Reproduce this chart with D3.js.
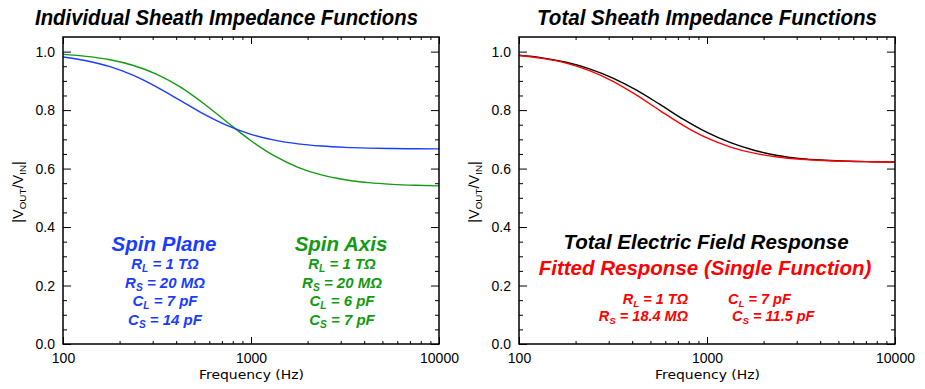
<!DOCTYPE html>
<html>
<head>
<meta charset="utf-8">
<script src="https://cdn.jsdelivr.net/npm/d3@7"></script>
<style>
    body { margin: 0; background: #fff; }
</style>
</head>
<body>
<div id="chart"></div>
<script>
let freqs = [100, 133, 178, 237, 316, 422, 562, 750, 1000, 1334, 1778, 2371, 3162, 4217, 5623, 7499, 10000];
let spinPlane = [0.9818, 0.9689, 0.9486, 0.9185, 0.8786, 0.8323, 0.7861, 0.7466, 0.7171, 0.6971, 0.6845, 0.6770, 0.6725, 0.6700, 0.6686, 0.6677, 0.6673];
let spinAxis = [0.9907, 0.9838, 0.9720, 0.9525, 0.9222, 0.8783, 0.8216, 0.7576, 0.6953, 0.6431, 0.6043, 0.5782, 0.5618, 0.5519, 0.5461, 0.5428, 0.5409];
let totalResponse = [0.9875, 0.9787, 0.9635, 0.9411, 0.9096, 0.8683, 0.8193, 0.7681, 0.7236, 0.6885, 0.6628, 0.6448, 0.6341, 0.6286, 0.6250, 0.6235, 0.6227];
let fittedResponse = [0.9865, 0.9767, 0.9605, 0.9351, 0.8986, 0.8513, 0.7983, 0.7471, 0.7046, 0.6735, 0.6528, 0.6398, 0.6321, 0.6276, 0.6250, 0.6235, 0.6227];

let xMajorTicks = [100, 1000, 10000];
let xMinorTicks = [200, 300, 400, 500, 600, 700, 800, 900, 2000, 3000, 4000, 5000, 6000, 7000, 8000, 9000];
let yMajorTicks = [0, 0.2, 0.4, 0.6, 0.8, 1.0];
let yMinorTicks = [0.05, 0.1, 0.15, 0.25, 0.3, 0.35, 0.45, 0.5, 0.55, 0.65, 0.7, 0.75, 0.85, 0.9, 0.95];

let blue = "#1a3cff", green = "#139a13", red = "#ff0000";
let sansFont = "Liberation Sans, Arial, sans-serif";

let svg = d3.select("#chart").append("svg")
    .attr("width", 925)
    .attr("height", 389)
    .attr("font-family", sansFont);

// text with subscripts: parts = [[text, isSub], ...]
function richText(g, x, y, parts, opts) {
    let t = g.append("text")
        .attr("x", x)
        .attr("y", y)
        .attr("text-anchor", opts.anchor || "middle")
        .attr("font-size", opts.size)
        .attr("font-weight", opts.weight || "normal")
        .attr("font-style", opts.style || "normal")
        .attr("fill", opts.color || "#000");
    let wasSub = false;
    parts.forEach(([s, sub]) => {
        let ts = t.append("tspan").text(s);
        if (sub) {
            ts.attr("font-size", opts.size * 0.68).attr("dy", opts.size * 0.2);
        } else if (wasSub) {
            ts.attr("dy", -opts.size * 0.2);
        }
        wasSub = sub;
    });
    return t;
}

function drawPanel(p) {
    let g = svg.append("g");
    let x = d3.scaleLog().domain([100, 10000]).range([p.left, p.left + 376]);
    let y = d3.scaleLinear().domain([0, 1.05]).range([344, 37]);

    let noDomain = (a) => a.select(".domain").remove();

    // bottom axis (labelled) + minor
    g.append("g").attr("transform", "translate(0,344)")
        .call(d3.axisBottom(x).tickValues(xMajorTicks).tickSize(-7).tickPadding(9).tickFormat(d3.format("d")))
        .call(noDomain);
    g.append("g").attr("transform", "translate(0,344)")
        .call(d3.axisBottom(x).tickValues(xMinorTicks).tickSize(-3).tickFormat(""))
        .call(noDomain);
    // top axis
    g.append("g").attr("transform", "translate(0,37)")
        .call(d3.axisTop(x).tickValues(xMajorTicks).tickSize(-7).tickFormat(""))
        .call(noDomain);
    g.append("g").attr("transform", "translate(0,37)")
        .call(d3.axisTop(x).tickValues(xMinorTicks).tickSize(-3).tickFormat(""))
        .call(noDomain);
    // left axis (labelled) + minor
    g.append("g").attr("transform", "translate(" + p.left + ",0)")
        .call(d3.axisLeft(y).tickValues(yMajorTicks).tickSize(-8).tickPadding(8).tickFormat(d3.format(".1f")))
        .call(noDomain);
    g.append("g").attr("transform", "translate(" + p.left + ",0)")
        .call(d3.axisLeft(y).tickValues(yMinorTicks).tickSize(-4).tickFormat(""))
        .call(noDomain);
    // right axis
    g.append("g").attr("transform", "translate(" + (p.left + 376) + ",0)")
        .call(d3.axisRight(y).tickValues(yMajorTicks).tickSize(-8).tickFormat(""))
        .call(noDomain);
    g.append("g").attr("transform", "translate(" + (p.left + 376) + ",0)")
        .call(d3.axisRight(y).tickValues(yMinorTicks).tickSize(-4).tickFormat(""))
        .call(noDomain);

    g.selectAll("g").attr("font-family", sansFont).attr("font-size", 14);
    g.selectAll(".tick line").attr("stroke", "#000").attr("stroke-width", 1);
    g.selectAll(".tick text").attr("fill", "#000");

    let line = d3.line()
        .x((d) => x(d.f))
        .y((d) => y(d.v))
        .curve(d3.curveMonotoneX);

    p.series.forEach((s) => {
        g.append("path")
            .datum(freqs.map((f, i) => ({f: f, v: s.values[i]})))
            .attr("fill", "none")
            .attr("stroke", s.color)
            .attr("stroke-width", 1.4)
            .attr("d", line);
    });

    g.append("rect")
        .attr("x", p.left).attr("y", 37)
        .attr("width", 376).attr("height", 307)
        .attr("fill", "none")
        .attr("stroke", "#000")
        .attr("stroke-width", 1.5);

    // title
    g.append("text")
        .attr("x", p.titleX).attr("y", 25)
        .attr("textLength", p.titleLen)
        .attr("lengthAdjust", "spacingAndGlyphs")
        .attr("font-size", 22)
        .attr("font-weight", "bold")
        .attr("font-style", "italic")
        .text(p.title);

    // x label
    g.append("text")
        .attr("x", p.left + 188 - 52).attr("y", 379)
        .attr("textLength", 105)
        .attr("lengthAdjust", "spacingAndGlyphs")
        .attr("font-family", "DejaVu Sans, sans-serif")
        .attr("font-size", 13)
        .text("Frequency (Hz)");

    // y label
    richText(g, 0, 0, [["|V", false], ["OUT", true], ["/V", false], ["IN", true], ["|", false]], {size: 14.5})
        .attr("transform", "translate(" + (p.left - 40) + ",192) rotate(-90)");

    return g;
}

let left = drawPanel({
    left: 63,
    title: "Individual Sheath Impedance Functions",
    titleX: 35, titleLen: 383,
    series: [
        {values: spinAxis, color: green},
        {values: spinPlane, color: blue}
    ]
});

let right = drawPanel({
    left: 519,
    title: "Total Sheath Impedance Functions",
    titleX: 537, titleLen: 340,
    series: [
        {values: totalResponse, color: "#000"},
        {values: fittedResponse, color: red}
    ]
});

let bi = {weight: "bold", style: "italic"};

// left panel annotations
richText(left, 164, 251, [["Spin Plane", false]], Object.assign({size: 20.5, color: blue}, bi));
richText(left, 165, 269, [["R", false], ["L", true], [" = 1 TΩ", false]], Object.assign({size: 15, color: blue}, bi));
richText(left, 165, 288, [["R", false], ["S", true], [" = 20 MΩ", false]], Object.assign({size: 15, color: blue}, bi));
richText(left, 165, 306, [["C", false], ["L", true], [" = 7 pF", false]], Object.assign({size: 15, color: blue}, bi));
richText(left, 165, 325, [["C", false], ["S", true], [" = 14 pF", false]], Object.assign({size: 15, color: blue}, bi));

richText(left, 341, 251, [["Spin Axis", false]], Object.assign({size: 20.5, color: green}, bi));
richText(left, 342, 269, [["R", false], ["L", true], [" = 1 TΩ", false]], Object.assign({size: 15, color: green}, bi));
richText(left, 342, 288, [["R", false], ["S", true], [" = 20 MΩ", false]], Object.assign({size: 15, color: green}, bi));
richText(left, 342, 306, [["C", false], ["L", true], [" = 6 pF", false]], Object.assign({size: 15, color: green}, bi));
richText(left, 342, 325, [["C", false], ["S", true], [" = 7 pF", false]], Object.assign({size: 15, color: green}, bi));

// right panel annotations
richText(right, 706, 249, [["Total Electric Field Response", false]], Object.assign({size: 20.5, color: "#000"}, bi));
richText(right, 705, 275, [["Fitted Response (Single Function)", false]], Object.assign({size: 20.5, color: red}, bi));
richText(right, 688, 304, [["R", false], ["L", true], [" = 1 TΩ", false]], Object.assign({size: 14.5, color: red, anchor: "end"}, bi));
richText(right, 688, 321, [["R", false], ["S", true], [" = 18.4 MΩ", false]], Object.assign({size: 14.5, color: red, anchor: "end"}, bi));
richText(right, 728, 304, [["C", false], ["L", true], [" = 7 pF", false]], Object.assign({size: 14.5, color: red, anchor: "start"}, bi));
richText(right, 732, 321, [["C", false], ["S", true], [" = 11.5 pF", false]], Object.assign({size: 14.5, color: red, anchor: "start"}, bi));
</script>
</body>
</html>
